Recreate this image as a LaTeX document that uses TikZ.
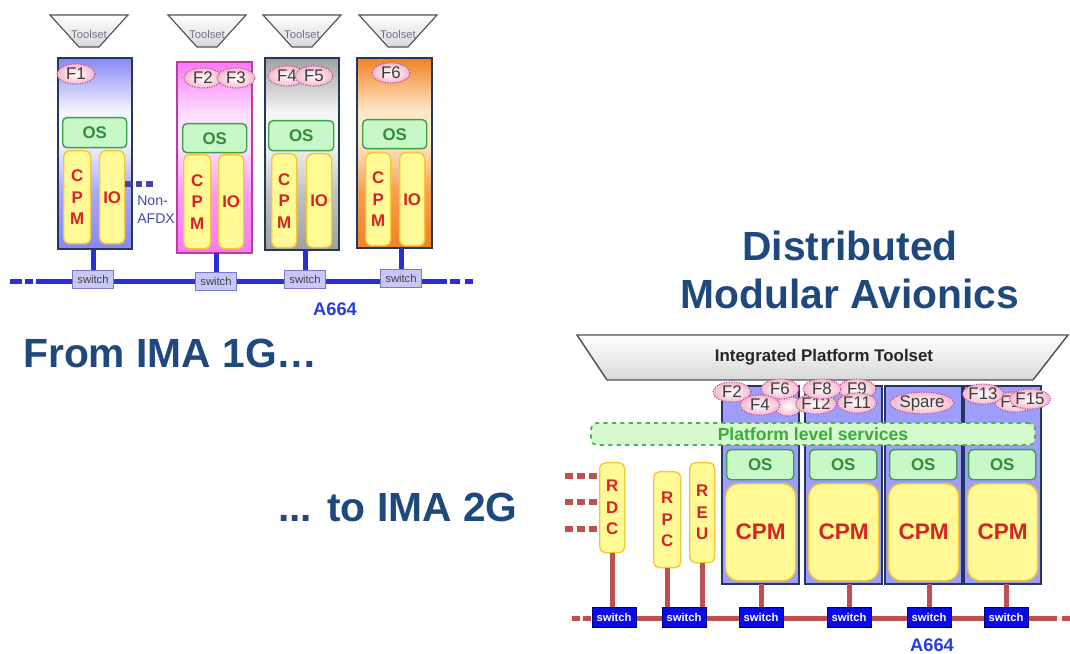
\documentclass[tikz,border=0pt]{standalone}
\usepackage{fontspec}
\setmainfont{Liberation Sans}
\usetikzlibrary{positioning,shapes.geometric}
\newlength\pxl
\setlength\pxl{0.25mm}
\definecolor{titleblue}{RGB}{31,73,125}
\definecolor{navyline}{RGB}{35,55,95}
\definecolor{busblue}{RGB}{45,45,215}
\definecolor{busred}{RGB}{190,80,80}
\definecolor{swfill}{RGB}{200,200,248}
\definecolor{swline}{RGB}{120,120,210}
\definecolor{swblue}{RGB}{10,10,235}
\definecolor{osfill}{RGB}{200,248,200}
\definecolor{osline}{RGB}{60,160,70}
\definecolor{ostext}{RGB}{50,140,60}
\definecolor{yfill}{RGB}{255,250,150}
\definecolor{yline}{RGB}{245,200,50}
\definecolor{cpmred}{RGB}{215,35,35}
\definecolor{fpink}{RGB}{245,185,205}
\definecolor{fline}{RGB}{185,80,165}
\definecolor{ftext}{RGB}{60,60,60}
\definecolor{svcfill}{RGB}{212,250,205}
\definecolor{svcline}{RGB}{80,180,80}
\definecolor{svctext}{RGB}{60,170,60}
\definecolor{rmodfill}{RGB}{158,158,250}
\definecolor{toolgray}{RGB}{80,80,80}
\definecolor{tooltext}{RGB}{125,110,140}
\definecolor{nonafdx}{RGB}{70,70,170}
\definecolor{alink}{RGB}{40,60,220}
\definecolor{mblue}{RGB}{135,135,245}
\definecolor{mbluemid}{RGB}{245,245,255}
\definecolor{mpink}{RGB}{250,120,250}
\definecolor{mpinkmid}{RGB}{255,225,255}
\definecolor{mpinkline}{RGB}{190,60,160}
\definecolor{mgray}{RGB}{160,160,160}
\definecolor{mgraymid}{RGB}{245,245,245}
\definecolor{morange}{RGB}{240,130,35}
\definecolor{morangemid}{RGB}{255,232,200}
% module shadings: light band just above the OS box
\pgfdeclareverticalshading{shblue}{100bp}{color(0bp)=(mblue); color(25bp)=(mblue); color(40bp)=(mblue!70!mbluemid);
  color(53bp)=(mbluemid); color(61bp)=(mbluemid); color(75bp)=(mblue); color(100bp)=(mblue)}
\pgfdeclareverticalshading{shpink}{100bp}{color(0bp)=(mpink); color(25bp)=(mpink); color(40bp)=(mpink!70!mpinkmid);
  color(53bp)=(mpinkmid); color(61bp)=(mpinkmid); color(75bp)=(mpink); color(100bp)=(mpink)}
\pgfdeclareverticalshading{shgray}{100bp}{color(0bp)=(mgray); color(25bp)=(mgray); color(40bp)=(mgray!60!mgraymid);
  color(53bp)=(mgraymid); color(61bp)=(mgraymid); color(75bp)=(mgray); color(100bp)=(mgray)}
\pgfdeclareverticalshading{shorange}{100bp}{color(0bp)=(morange); color(25bp)=(morange); color(40bp)=(morange!70!morangemid);
  color(53bp)=(morangemid); color(61bp)=(morangemid); color(75bp)=(morange); color(100bp)=(morange)}
\tikzset{
  lmod/.style={draw=navyline,line width=1.2pt,inner sep=0pt,outer sep=0pt,anchor=north west},
  rmod/.style={lmod,fill=rmodfill,minimum width=77\pxl,minimum height=198\pxl},
  fnode/.style={ellipse,draw=fline,densely dotted,line width=0.8pt,inner color=white,outer color=fpink,
                inner sep=0pt,minimum width=38\pxl,minimum height=20\pxl,text=ftext,font=\fontsize{12}{12}\selectfont},
  osbox/.style={draw=osline,line width=1pt,fill=osfill,rounded corners=3pt,inner sep=0pt,anchor=north west,
                text=ostext,font=\fontsize{12}{12}\selectfont\bfseries},
  ybox/.style={draw=yline,line width=1pt,fill=yfill,rounded corners=4pt,inner sep=0pt,anchor=north west,
               align=center,text=cpmred,font=\fontsize{12}{15.3}\selectfont\bfseries},
  cpmbig/.style={ybox,rounded corners=9pt,minimum width=70\pxl,minimum height=97\pxl,font=\fontsize{16}{16}\selectfont\bfseries},
  swA/.style={draw=swline,fill=swfill,line width=0.6pt,inner sep=0pt,minimum width=41\pxl,minimum height=18\pxl,
              text=darkgray,font=\fontsize{8}{8}\selectfont},
  swB/.style={draw=blue!50!black,fill=swblue,line width=0.6pt,inner sep=0pt,minimum width=44\pxl,minimum height=20\pxl,
              text=white,font=\fontsize{8}{8}\selectfont\bfseries},
  busA/.style={line width=1.25mm,busblue},
  busB/.style={line width=1.25mm,busred},
  tool/.style={draw=toolgray,line width=0.8pt,top color=white,bottom color=gray!30},
  title/.style={text=titleblue,font=\fontsize{29}{34}\selectfont\bfseries,inner sep=0pt},
  svc/.style={draw=svcline,dashed,line width=1.2pt,fill=svcfill,rounded corners=4pt,inner sep=0pt,
              minimum width=444\pxl,minimum height=22\pxl,text=svctext,font=\fontsize{12.5}{12.5}\selectfont\bfseries},
}
\begin{document}
\begin{tikzpicture}[x=0.25mm,y=-0.25mm]
\useasboundingbox (0,0) rectangle (1070,654);

% IMA 1G
\foreach \x [count=\i] in {89,207,302,398}{
  \draw[tool] (\x-39,15) -- (\x+39,15) -- (\x+10,47) -- (\x-10,47) -- cycle;
  \node[font=\fontsize{8}{8}\selectfont,text=tooltext] (tl\i) at (\x,34) {Toolset};
}
\coordinate (la0) at (10,282);
\coordinate (la1) at (36,282);
\coordinate (la2) at (447,282);
\coordinate (la3) at (473,282);
\draw[busA,dash pattern=on 3mm off 0.75mm on 2mm off 0.75mm] (la0) -- (la1);
\draw[busA] (la1) -- (la2);
\draw[busA,dash pattern=on 0mm off 0.75mm on 2.5mm off 1.25mm on 2mm off 1mm] (la2) -- (la3);

\node[lmod,minimum width=74\pxl,minimum height=191\pxl,shading=shblue] (m1) at (58,58) {};
\node[lmod,draw=mpinkline,minimum width=75\pxl,minimum height=191\pxl,shading=shpink] (m2) at (177,62) {};
\node[lmod,minimum width=74\pxl,minimum height=192\pxl,shading=shgray] (m3) at (265,58) {};
\node[lmod,minimum width=75\pxl,minimum height=190\pxl,shading=shorange] (m4) at (357,58) {};

\node[fnode] (f1) at (76,74) {F1};
\node[fnode] (f2) at (203,78) {F2};
\node[fnode] (f3) at (236,78) {F3};
\node[fnode] (f4) at (287,76) {F4};
\node[fnode] (f5) at (314,76) {F5};
\node[fnode] (f6) at (391,73) {F6};

\node[osbox,minimum width=64\pxl,minimum height=30\pxl] (os1) at (62,117) {OS};
\node[osbox,minimum width=64\pxl,minimum height=29\pxl] (os2) at (182,123) {OS};
\node[osbox,minimum width=65\pxl,minimum height=30\pxl] (os3) at (268,120) {OS};
\node[osbox,minimum width=64\pxl,minimum height=29\pxl] (os4) at (362,119) {OS};

\node[ybox,minimum width=27\pxl,minimum height=93\pxl] (cpm1) at (63,150) {C\\P\\M};
\node[ybox,minimum width=25\pxl,minimum height=93\pxl] (io1) at (99,150) {IO};
\node[ybox,minimum width=27\pxl,minimum height=94\pxl] (cpm2) at (183,154) {C\\P\\M};
\node[ybox,minimum width=25\pxl,minimum height=94\pxl] (io2) at (218,154) {IO};
\node[ybox,minimum width=25\pxl,minimum height=94\pxl] (cpm3) at (271,153) {C\\P\\M};
\node[ybox,minimum width=25\pxl,minimum height=94\pxl] (io3) at (306,153) {IO};
\node[ybox,minimum width=25\pxl,minimum height=93\pxl] (cpm4) at (365,152) {C\\P\\M};
\node[ybox,minimum width=25\pxl,minimum height=93\pxl] (io4) at (399,152) {IO};

\node[swA] (lsw1) at (93,279) {switch};
\node[swA] (lsw2) at (216,281) {switch};
\node[swA] (lsw3) at (305,279) {switch};
\node[swA] (lsw4) at (401,278) {switch};
\foreach \a/\b in {m1/lsw1,m2/lsw2,m3/lsw3,m4/lsw4}
  \draw[busA] (\b.north) -- (\b.north |- \a.south);

\coordinate (na) at (155,184);
\draw[nonafdx,line width=1.4mm,dash pattern=on 1.6mm off 1mm] (io1.east |- na) -- (na);
\node[align=left,anchor=west,inner sep=0pt,text=nonafdx,font=\fontsize{10}{12.8}\selectfont] (nafdx) at (137,210) {Non-\\AFDX};
\node[text=alink,font=\fontsize{13}{13}\selectfont\bfseries] (a664l) at (335,309) {A664};

% titles
\node[title,anchor=west] (from) at (23,353) {From IMA 1G…};
\node[title,anchor=west] (to) at (278,507) {... to IMA 2G};
\node[title,align=center] (dma) at (850,270) {Distributed\\Modular Avionics};

% IMA 2G
\draw[tool,line width=1pt] (577,335) -- (1068,335) -- (1033,380) -- (607,380) -- cycle;
\node[text=black!85,font=\fontsize{12}{12}\selectfont\bfseries] (ipt) at (824,357) {Integrated Platform Toolset};

\coordinate (ra0) at (572,618);
\coordinate (ra1) at (594,618);
\coordinate (ra2) at (1057,618);
\coordinate (ra3) at (1070,618);
\draw[busB,dash pattern=on 2mm off 0.75mm] (ra0) -- (ra1);
\draw[busB] (ra1) -- (ra2);
\draw[busB,dash pattern=on 0mm off 1.25mm on 2mm off 1mm] (ra2) -- (ra3);

\foreach \i/\x in {1/722,2/805,3/885,4/964}{
  \node[rmod] (r\i) at (\x,386) {};
  \node[osbox,minimum width=67\pxl,minimum height=30\pxl] (ros\i) at (\x+4,449) {OS};
  \node[cpmbig] (rcpm\i) at (\x+3,483) {CPM};
}

\node[fnode,minimum width=28\pxl] (fx) at (788,406) {};
\node[fnode] (rf2) at (732,392) {F2};
\node[fnode] (rf6) at (780,389) {F6};
\node[fnode,minimum width=40\pxl] (rf4) at (760,405) {F4};
\node[fnode] (rf12) at (816,404) {F12};
\node[fnode] (rf9) at (857,389) {F9};
\node[fnode] (rf8) at (822,389) {F8};
\node[fnode] (rf11) at (857,403) {F11};
\node[fnode,minimum width=52\pxl] (spare) at (922,403) {Spare};
\node[fnode] (rf14) at (1015,402) {F14};
\node[fnode] (rf13) at (983,394) {F13};
\node[fnode] (rf15) at (1030,399) {F15};

\node[svc] (pls) at (813,434) {Platform level services};

\node[ybox,minimum width=25\pxl,minimum height=90\pxl] (rdc) at (599,462) {R\\D\\C};
\node[ybox,minimum width=27\pxl,minimum height=96\pxl] (rpc) at (653,471) {R\\P\\C};
\node[ybox,minimum width=25\pxl,minimum height=100\pxl] (reu) at (689,462) {R\\E\\U};
\foreach \y [count=\k] in {476,502,529}{
  \coordinate (rd\k) at (565,\y);
  \draw[busred,line width=1.5mm,dash pattern=on 2mm off 1mm] (rd\k) -- (rd\k -| rdc.west);
}

\foreach \n/\x in {1/614,2/684,3/761,4/849,5/929,6/1006}
  \node[swB] (rsw\n) at (\x,617) {switch};
\draw[busB] (rdc.south) -- (rdc.south |- rsw1.north);
\draw[busB] (rpc.south) -- (rpc.south |- rsw2.north);
\draw[busB] (reu.south) -- (reu.south |- rsw2.north);
\foreach \a/\b in {r1/rsw3,r2/rsw4,r3/rsw5,r4/rsw6}
  \draw[busB] (\b.north) -- (\b.north |- \a.south);

\node[text=alink,font=\fontsize{13}{13}\selectfont\bfseries] (a664r) at (932,645) {A664};
\end{tikzpicture}
\end{document}
